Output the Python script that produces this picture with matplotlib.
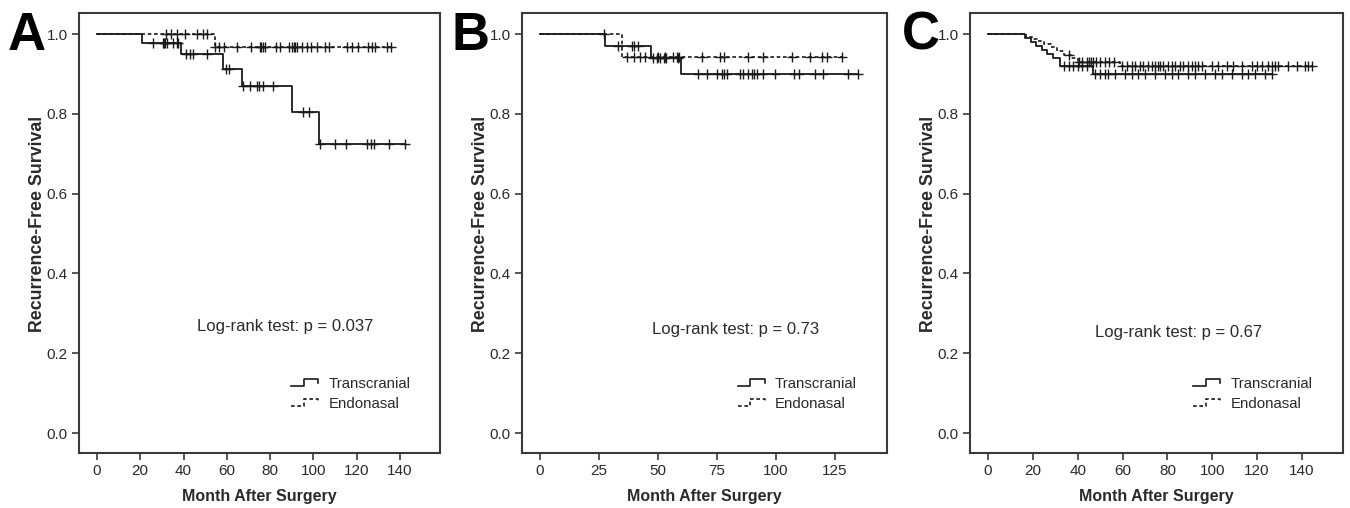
import numpy as np
import matplotlib
matplotlib.use("Agg")
import matplotlib.pyplot as plt
from matplotlib.legend_handler import HandlerBase
from matplotlib.lines import Line2D

plt.rcParams['font.family'] = ['Liberation Sans', 'DejaVu Sans']

# ---------------- data ----------------
panel_letters = ["A", "B", "C"]
pvalue_texts = ["Log-rank test: p = 0.037", "Log-rank test: p = 0.73", "Log-rank test: p = 0.67"]
series_names = ["Transcranial", "Endonasal"]
y_ticks = [0.0, 0.2, 0.4, 0.6, 0.8, 1.0]
x_ticks_A = [0, 20, 40, 60, 80, 100, 120, 140]
x_ticks_B = [0, 25, 50, 75, 100, 125]
x_ticks_C = [0, 20, 40, 60, 80, 100, 120, 140]

# Panel A
A_trans_event_t = [20.9, 38.7, 58.1, 67.0, 90.1, 102.4]
A_trans_event_s = [0.977, 0.950, 0.912, 0.870, 0.805, 0.724]
A_trans_cens = [26, 30.3, 31, 31.6, 32.5, 35.3, 36.8, 37.6, 41.1, 43, 44.5, 50.7,
                59.8, 61, 67.5, 70.7, 74.1, 75, 76.6, 81.2, 95, 97.8,
                103, 110, 115, 125, 126.5, 128, 135, 142.3]
A_endo_event_t = [54.5]
A_endo_event_s = [0.968]
A_endo_cens = [31.9, 34.0, 36.8, 40.8, 46.1, 49.1, 51, 54.6, 56.5, 58.7, 64.5, 71,
               75.3, 76, 76.7, 77.6, 82.7, 84.6, 88.5, 90, 91, 91.5, 92.5, 94.6, 97,
               99, 101.5, 105.4, 107.4, 115.4, 117.7, 120.8, 125.4, 127, 128.5,
               133.9, 135.7]

# Panel B
B_trans_event_t = [27.5, 47.0, 59.6]
B_trans_event_s = [0.971, 0.939, 0.899]
B_trans_cens = [33.2, 39.1, 40, 41.7, 48, 49.5, 51, 52.5, 53.5, 58.5, 67.1, 70.9,
                74.9, 77, 78, 79.1, 84.7, 86.1, 88, 89.7, 90.8, 91.8, 94.6, 99.6,
                107.8, 109.7, 116.5, 119.8, 130.6, 134.9]
B_endo_event_t = [34.9]
B_endo_event_s = [0.943]
B_endo_cens = [27, 36.7, 40, 42.4, 44.5, 50.1, 53, 56.5, 57.9, 58.9, 68.5, 76.3,
               78.1, 88, 94.6, 106.6, 114.4, 119.4, 121.5, 127.8]

# Panel C
C_trans_event_t = [16.5, 19, 21.5, 24, 26.5, 29, 32, 47]
C_trans_event_s = [0.99, 0.98, 0.97, 0.96, 0.95, 0.94, 0.92, 0.90]
C_trans_cens = [34, 36, 38, 40, 42, 44, 47.7, 49.9, 52.2, 53.6, 56.6, 61.1, 64.1,
                67, 70, 74.4, 78.9, 81.9, 84.8, 89.3, 92.3, 96.7, 101.2, 104.2,
                108.6, 113.1, 116.1, 119.1, 123.5, 126.5]
C_endo_event_t = [17, 19.5, 22, 25, 28, 31, 34, 37, 40, 59]
C_endo_event_s = [0.994, 0.988, 0.982, 0.975, 0.968, 0.958, 0.948, 0.94, 0.93, 0.92]
C_endo_cens = [36, 40.5, 42, 44, 45, 46, 47, 48, 50, 52, 54, 56, 59.6, 61.8, 64.1,
               65.5, 67.8, 69.2, 71.5, 73, 74.5, 75.7, 76.7, 78.2, 80.4, 81.9, 83.4,
               85.6, 87.1, 89.3, 90.8, 92.3, 93.8, 95.3, 99.7, 102.7, 106.4, 109.4,
               113.1, 117.6, 119.8, 122.1, 125, 126.5, 128, 129.5, 133.9, 137.6,
               141.3, 142.8, 144.6]

panels = [
    (A_trans_event_t, A_trans_event_s, A_trans_cens, A_endo_event_t, A_endo_event_s, A_endo_cens, x_ticks_A),
    (B_trans_event_t, B_trans_event_s, B_trans_cens, B_endo_event_t, B_endo_event_s, B_endo_cens, x_ticks_B),
    (C_trans_event_t, C_trans_event_s, C_trans_cens, C_endo_event_t, C_endo_event_s, C_endo_cens, x_ticks_C),
]

# ---------------- style ----------------
LINE_COL = "#1a1a1a"
TEXT_COL = "#2a2a2a"
SPINE_COL = "#3a3a3a"
DASHES = (2.2, 1.6)


class StepHandler(HandlerBase):
    def __init__(self, dashed):
        super().__init__()
        self.dashed = dashed

    def create_artists(self, legend, orig_handle, xdescent, ydescent, width,
                       height, fontsize, trans):
        xs = np.array([0.0, 0.45, 0.45, 0.95, 0.95]) * width - xdescent
        ys = np.array([0.15, 0.15, 0.85, 0.85, 0.45]) * height - ydescent
        ln = Line2D(xs, ys, color=LINE_COL, lw=1.2)
        if self.dashed:
            ln.set_dashes(DASHES)
        ln.set_transform(trans)
        return [ln]


def km_arrays(event_t, event_s, cens):
    t_end = max(list(event_t) + list(cens))
    xs = np.concatenate([[0.0], np.asarray(event_t, float), [t_end]])
    ys = np.concatenate([[1.0], np.asarray(event_s, float), [event_s[-1]]])
    return xs, ys


def surv_at(event_t, event_s, t):
    et = np.asarray(event_t, float)
    es = np.concatenate([[1.0], np.asarray(event_s, float)])
    idx = np.searchsorted(et, np.asarray(t, float), side='right')
    return es[idx]


fig = plt.figure(figsize=(13.5, 5.08), dpi=100)
axes_rects = [
    [79 / 1350, 55 / 508, 361 / 1350, 440 / 508],
    [522 / 1350, 55 / 508, 365 / 1350, 440 / 508],
    [970 / 1350, 55 / 508, 373 / 1350, 440 / 508],
]
xlims = [(-8.3, 158.5), (-7.6, 147), (-8.0, 158.3)]
letter_x = [8 / 1350, 452 / 1350, 902 / 1350]
text_centers = [(87, 0.266), (83, 0.26), (85, 0.252)]

for i, (tt, ts, tc, et, es, ec, xt) in enumerate(panels):
    ax = fig.add_axes(axes_rects[i])
    w_px = axes_rects[i][2] * 1350
    # endonasal (dashed) first so solid is on top where overlapping
    x, y = km_arrays(et, es, ec)
    l2, = ax.step(x, y, where='post', color=LINE_COL, lw=1.2)
    l2.set_dashes(DASHES)
    ax.plot(ec, surv_at(et, es, ec), ls='none', marker='+', ms=7, mew=1.0,
            color=LINE_COL)
    x, y = km_arrays(tt, ts, tc)
    ax.step(x, y, where='post', color=LINE_COL, lw=1.3)
    ax.plot(tc, surv_at(tt, ts, tc), ls='none', marker='+', ms=7, mew=1.0,
            color=LINE_COL)

    ax.set_xlim(*xlims[i])
    ax.set_ylim(-0.05, 1.053)
    ax.set_xticks(xt)
    ax.set_yticks(y_ticks)
    ax.set_yticklabels([f"{v:.1f}" for v in y_ticks])
    ax.tick_params(direction='out', length=5, width=1.2, colors=SPINE_COL,
                   labelcolor=TEXT_COL, labelsize=11, pad=3)
    for sp in ax.spines.values():
        sp.set_color(SPINE_COL)
        sp.set_linewidth(1.5)
    ax.set_xlabel("Month After Surgery", fontsize=11.5, fontweight='bold',
                  color=TEXT_COL, labelpad=8)
    ax.set_ylabel("Recurrence-Free Survival", fontsize=12.8, fontweight='bold',
                  color=TEXT_COL)
    ax.yaxis.set_label_coords(-33 / w_px, 0.52)
    ax.text(text_centers[i][0], text_centers[i][1], pvalue_texts[i],
            fontsize=12, color=TEXT_COL, ha='center', va='center')

    h1 = Line2D([], [], color=LINE_COL)
    h2 = Line2D([], [], color=LINE_COL, ls='--')
    leg = ax.legend([h1, h2], series_names, loc='lower right',
                    bbox_to_anchor=(0.955, 0.065), frameon=False, fontsize=10.8,
                    handlelength=1.9, handletextpad=0.6, labelspacing=0.42,
                    handler_map={h1: StepHandler(False), h2: StepHandler(True)})
    for t in leg.get_texts():
        t.set_color(TEXT_COL)

    fig.text(letter_x[i], 1 - 11 / 508, panel_letters[i], fontsize=38,
             fontweight='bold', color='black', ha='left', va='top')

fig.savefig("out.png", dpi=100)
